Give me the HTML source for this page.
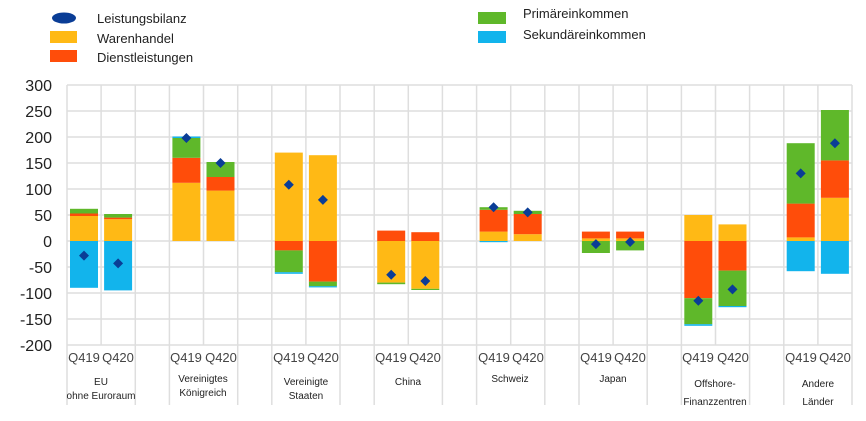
<!DOCTYPE html>
<html><head><meta charset="utf-8"><style>
html,body{margin:0;padding:0;background:#fff;}
svg{display:block;font-family:"Liberation Sans",sans-serif;}
</style></head><body>
<svg width="866" height="421" viewBox="0 0 866 421" xmlns="http://www.w3.org/2000/svg">
<ellipse cx="64" cy="18" rx="12" ry="5.5" fill="#0a3d96"/>
<rect x="50" y="31" width="27" height="12" fill="#ffb915"/>
<rect x="50" y="50" width="27" height="12" fill="#ff4d0a"/>
<text x="97" y="23" font-size="13" fill="#222">Leistungsbilanz</text>
<text x="97" y="43" font-size="13" fill="#222">Warenhandel</text>
<text x="97" y="62" font-size="13" fill="#222">Dienstleistungen</text>
<rect x="478" y="12" width="28" height="12" fill="#5fb82a"/>
<rect x="478" y="31" width="28" height="12" fill="#12b4ec"/>
<text x="523" y="18" font-size="13" fill="#222">Primäreinkommen</text>
<text x="523" y="39" font-size="13" fill="#222">Sekundäreinkommen</text>
<g stroke="#dedede" stroke-width="1.5">
<line x1="67" x2="852" y1="85" y2="85"/><line x1="67" x2="852" y1="111" y2="111"/>
<line x1="67" x2="852" y1="137" y2="137"/><line x1="67" x2="852" y1="163" y2="163"/>
<line x1="67" x2="852" y1="189" y2="189"/><line x1="67" x2="852" y1="215" y2="215"/>
<line x1="67" x2="852" y1="241" y2="241"/><line x1="67" x2="852" y1="267" y2="267"/>
<line x1="67" x2="852" y1="293" y2="293"/><line x1="67" x2="852" y1="319" y2="319"/>
<line x1="67" x2="852" y1="345" y2="345"/>
<line x1="67" x2="67" y1="85" y2="405"/><line x1="101.1" x2="101.1" y1="85" y2="345"/>
<line x1="135.3" x2="135.3" y1="85" y2="405"/><line x1="169.4" x2="169.4" y1="85" y2="405"/>
<line x1="203.5" x2="203.5" y1="85" y2="345"/><line x1="237.7" x2="237.7" y1="85" y2="405"/>
<line x1="271.8" x2="271.8" y1="85" y2="405"/><line x1="305.9" x2="305.9" y1="85" y2="345"/>
<line x1="340" x2="340" y1="85" y2="405"/><line x1="374.2" x2="374.2" y1="85" y2="405"/>
<line x1="408.3" x2="408.3" y1="85" y2="345"/><line x1="442.4" x2="442.4" y1="85" y2="405"/>
<line x1="476.6" x2="476.6" y1="85" y2="405"/><line x1="510.7" x2="510.7" y1="85" y2="345"/>
<line x1="544.8" x2="544.8" y1="85" y2="405"/><line x1="579" x2="579" y1="85" y2="405"/>
<line x1="613.1" x2="613.1" y1="85" y2="345"/><line x1="647.2" x2="647.2" y1="85" y2="405"/>
<line x1="681.4" x2="681.4" y1="85" y2="405"/><line x1="715.5" x2="715.5" y1="85" y2="345"/>
<line x1="749.6" x2="749.6" y1="85" y2="405"/><line x1="783.8" x2="783.8" y1="85" y2="405"/>
<line x1="817.9" x2="817.9" y1="85" y2="345"/><line x1="852" x2="852" y1="85" y2="405"/>
</g>
<g font-size="16" fill="#222" text-anchor="end">
<text x="52" y="91">300</text><text x="52" y="117">250</text><text x="52" y="143">200</text>
<text x="52" y="169">150</text><text x="52" y="195">100</text><text x="52" y="221">50</text>
<text x="52" y="247">0</text><text x="52" y="273">-50</text><text x="52" y="299">-100</text>
<text x="52" y="325">-150</text><text x="52" y="351">-200</text>
</g>
<g>
<rect x="70" y="216" width="28" height="25" fill="#ffb915"/><rect x="70" y="213.4" width="28" height="2.6" fill="#ff4d0a"/><rect x="70" y="208.8" width="28" height="4.7" fill="#5fb82a"/><rect x="70" y="241" width="28" height="46.8" fill="#12b4ec"/>
<rect x="104.1" y="219.2" width="28" height="21.8" fill="#ffb915"/><rect x="104.1" y="217.6" width="28" height="1.6" fill="#ff4d0a"/><rect x="104.1" y="214" width="28" height="3.6" fill="#5fb82a"/><rect x="104.1" y="241" width="28" height="49.4" fill="#12b4ec"/>
<rect x="172.4" y="182.8" width="28" height="58.2" fill="#ffb915"/><rect x="172.4" y="157.8" width="28" height="25" fill="#ff4d0a"/><rect x="172.4" y="138" width="28" height="19.8" fill="#5fb82a"/><rect x="172.4" y="136.5" width="28" height="1.5" fill="#12b4ec"/>
<rect x="206.5" y="190.6" width="28" height="50.4" fill="#ffb915"/><rect x="206.5" y="177" width="28" height="13.6" fill="#ff4d0a"/><rect x="206.5" y="162" width="28" height="15" fill="#5fb82a"/>
<rect x="274.8" y="152.6" width="28" height="88.4" fill="#ffb915"/><rect x="274.8" y="241" width="28" height="9.4" fill="#ff4d0a"/><rect x="274.8" y="250.4" width="28" height="21.8" fill="#5fb82a"/><rect x="274.8" y="272.2" width="28" height="1.6" fill="#12b4ec"/>
<rect x="308.9" y="155.2" width="28" height="85.8" fill="#ffb915"/><rect x="308.9" y="241" width="28" height="40.6" fill="#ff4d0a"/><rect x="308.9" y="281.6" width="28" height="4.7" fill="#5fb82a"/><rect x="308.9" y="286.2" width="28" height="1.2" fill="#12b4ec"/>
<rect x="377.2" y="230.6" width="28" height="10.4" fill="#ff4d0a"/><rect x="377.2" y="241" width="28" height="41.6" fill="#ffb915"/><rect x="377.2" y="282.6" width="28" height="1.6" fill="#5fb82a"/>
<rect x="411.3" y="232.2" width="28" height="8.8" fill="#ff4d0a"/><rect x="411.3" y="241" width="28" height="47.8" fill="#ffb915"/><rect x="411.3" y="288.8" width="28" height="1.2" fill="#5fb82a"/>
<rect x="479.6" y="231.6" width="28" height="9.4" fill="#ffb915"/><rect x="479.6" y="209.8" width="28" height="21.8" fill="#ff4d0a"/><rect x="479.6" y="207.2" width="28" height="2.6" fill="#5fb82a"/><rect x="479.6" y="241" width="28" height="1.2" fill="#12b4ec"/>
<rect x="513.7" y="234.2" width="28" height="6.8" fill="#ffb915"/><rect x="513.7" y="214" width="28" height="20.2" fill="#ff4d0a"/><rect x="513.7" y="210.8" width="28" height="3.2" fill="#5fb82a"/>
<rect x="581.9" y="238.4" width="28" height="2.6" fill="#ffb915"/><rect x="581.9" y="231.6" width="28" height="6.8" fill="#ff4d0a"/><rect x="581.9" y="241" width="28" height="12" fill="#5fb82a"/>
<rect x="616.1" y="238.4" width="28" height="2.6" fill="#ffb915"/><rect x="616.1" y="231.6" width="28" height="6.8" fill="#ff4d0a"/><rect x="616.1" y="241" width="28" height="9.4" fill="#5fb82a"/>
<rect x="684.3" y="215" width="28" height="26" fill="#ffb915"/><rect x="684.3" y="241" width="28" height="57.2" fill="#ff4d0a"/><rect x="684.3" y="298.2" width="28" height="26" fill="#5fb82a"/><rect x="684.3" y="324.2" width="28" height="1.6" fill="#12b4ec"/>
<rect x="718.5" y="224.4" width="28" height="16.6" fill="#ffb915"/><rect x="718.5" y="241" width="28" height="29.6" fill="#ff4d0a"/><rect x="718.5" y="270.6" width="28" height="35.4" fill="#5fb82a"/><rect x="718.5" y="306" width="28" height="1.2" fill="#12b4ec"/>
<rect x="786.7" y="237.4" width="28" height="3.6" fill="#ffb915"/><rect x="786.7" y="203.6" width="28" height="33.8" fill="#ff4d0a"/><rect x="786.7" y="143.2" width="28" height="60.4" fill="#5fb82a"/><rect x="786.7" y="241" width="28" height="30.2" fill="#12b4ec"/>
<rect x="820.9" y="197.8" width="28" height="43.2" fill="#ffb915"/><rect x="820.9" y="160.4" width="28" height="37.4" fill="#ff4d0a"/><rect x="820.9" y="110" width="28" height="50.4" fill="#5fb82a"/><rect x="820.9" y="241" width="28" height="32.8" fill="#12b4ec"/>
</g>
<g fill="#0a3d96">
<path d="M84 250.6l5 5-5 5-5-5z"/><path d="M118.1 258.4l5 5-5 5-5-5z"/>
<path d="M186.4 133l5 5-5 5-5-5z"/><path d="M220.5 158l5 5-5 5-5-5z"/>
<path d="M288.8 179.8l5 5-5 5-5-5z"/><path d="M322.9 194.9l5 5-5 5-5-5z"/>
<path d="M391.2 269.8l5 5-5 5-5-5z"/><path d="M425.3 276l5 5-5 5-5-5z"/>
<path d="M493.6 202.2l5 5-5 5-5-5z"/><path d="M527.7 207.4l5 5-5 5-5-5z"/>
<path d="M595.9 239.1l5 5-5 5-5-5z"/><path d="M630.1 237l5 5-5 5-5-5z"/>
<path d="M698.3 295.8l5 5-5 5-5-5z"/><path d="M732.5 284.4l5 5-5 5-5-5z"/>
<path d="M800.7 168.4l5 5-5 5-5-5z"/><path d="M834.9 138.2l5 5-5 5-5-5z"/>
</g>
<g font-size="13" fill="#444" text-anchor="middle">
<text x="84" y="362">Q419</text><text x="118" y="362">Q420</text>
<text x="186" y="362">Q419</text><text x="221" y="362">Q420</text>
<text x="289" y="362">Q419</text><text x="323" y="362">Q420</text>
<text x="391" y="362">Q419</text><text x="425" y="362">Q420</text>
<text x="494" y="362">Q419</text><text x="528" y="362">Q420</text>
<text x="596" y="362">Q419</text><text x="630" y="362">Q420</text>
<text x="698" y="362">Q419</text><text x="733" y="362">Q420</text>
<text x="801" y="362">Q419</text><text x="835" y="362">Q420</text>
</g>
<g font-size="10" fill="#222" text-anchor="middle">
<text x="101" y="385">EU</text><text x="101" y="399">ohne Euroraum</text>
<text x="203" y="382">Vereinigtes</text><text x="203" y="396">Königreich</text>
<text x="306" y="385">Vereinigte</text><text x="306" y="399">Staaten</text>
<text x="408" y="385">China</text>
<text x="510" y="382">Schweiz</text>
<text x="613" y="382">Japan</text>
<text x="715" y="387">Offshore-</text><text x="715" y="405">Finanzzentren</text>
<text x="818" y="387">Andere</text><text x="818" y="405">Länder</text>
</g>
</svg>
</body></html>
